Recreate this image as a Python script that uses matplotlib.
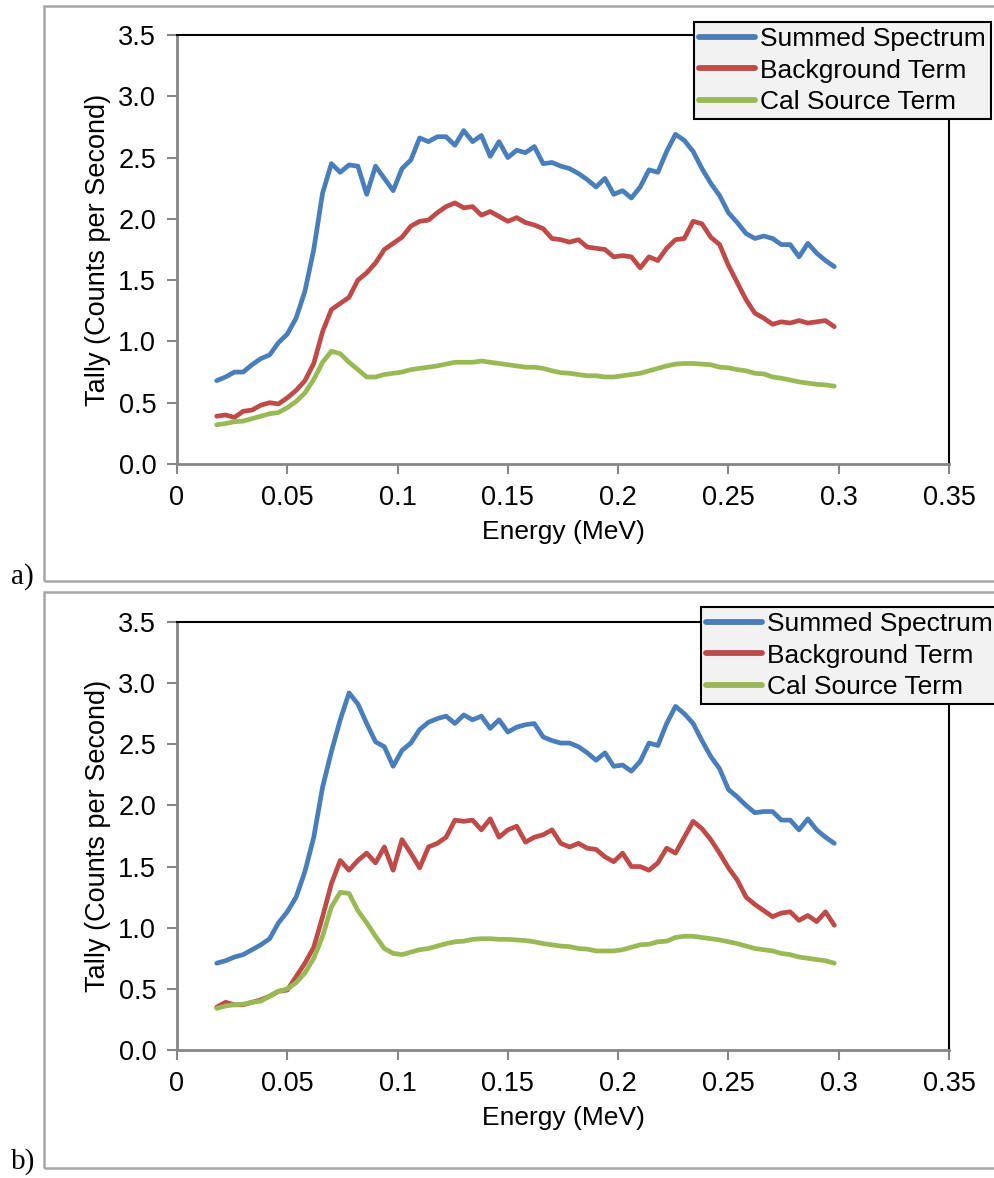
import numpy as np
import matplotlib
matplotlib.use("Agg")
import matplotlib.pyplot as plt
from matplotlib.patches import Rectangle

plt.rcParams["font.family"] = ["Liberation Sans", "DejaVu Sans"]

# energy grid (MeV)
energy = np.round(np.arange(0.018, 0.2981, 0.004), 3)

# panel a
summed_a = [0.68, 0.71, 0.75, 0.75, 0.81, 0.86, 0.89, 0.99, 1.06, 1.19,
            1.41, 1.75, 2.21, 2.45, 2.38, 2.44, 2.43, 2.20, 2.43, 2.33,
            2.23, 2.41, 2.48, 2.66, 2.63, 2.67, 2.67, 2.60, 2.72, 2.63,
            2.68, 2.51, 2.63, 2.50, 2.56, 2.54, 2.59, 2.45, 2.46, 2.43,
            2.41, 2.37, 2.32, 2.26, 2.33, 2.20, 2.23, 2.17, 2.26, 2.40,
            2.38, 2.55, 2.69, 2.64, 2.55, 2.41, 2.29, 2.19, 2.05, 1.97,
            1.88, 1.84, 1.86, 1.84, 1.79, 1.79, 1.69, 1.80, 1.72, 1.66,
            1.61]
background_a = [0.39, 0.40, 0.38, 0.43, 0.44, 0.48, 0.50, 0.49, 0.54, 0.60,
                0.68, 0.82, 1.08, 1.26, 1.31, 1.36, 1.50, 1.56, 1.64, 1.75,
                1.80, 1.85, 1.94, 1.98, 1.99, 2.05, 2.10, 2.13, 2.09, 2.10,
                2.03, 2.06, 2.02, 1.98, 2.01, 1.97, 1.95, 1.92, 1.84, 1.83,
                1.81, 1.83, 1.77, 1.76, 1.75, 1.69, 1.70, 1.69, 1.60, 1.69,
                1.66, 1.76, 1.83, 1.84, 1.98, 1.96, 1.85, 1.79, 1.62, 1.48,
                1.34, 1.23, 1.19, 1.14, 1.16, 1.15, 1.17, 1.15, 1.16, 1.17,
                1.12]
cal_a = [0.32, 0.33, 0.345, 0.35, 0.37, 0.39, 0.41, 0.42, 0.46, 0.51,
         0.58, 0.69, 0.83, 0.92, 0.90, 0.83, 0.77, 0.71, 0.71, 0.73,
         0.74, 0.75, 0.77, 0.78, 0.79, 0.80, 0.815, 0.83, 0.83, 0.83,
         0.84, 0.83, 0.82, 0.81, 0.80, 0.79, 0.79, 0.78, 0.76, 0.745,
         0.74, 0.73, 0.72, 0.72, 0.71, 0.71, 0.72, 0.73, 0.74, 0.76,
         0.78, 0.80, 0.815, 0.82, 0.82, 0.815, 0.81, 0.79, 0.785, 0.77,
         0.76, 0.74, 0.735, 0.71, 0.70, 0.685, 0.67, 0.66, 0.65, 0.645,
         0.635]

# panel b
summed_b = [0.71, 0.73, 0.76, 0.78, 0.82, 0.86, 0.91, 1.04, 1.13, 1.25,
            1.46, 1.74, 2.15, 2.44, 2.70, 2.92, 2.83, 2.67, 2.52, 2.48,
            2.32, 2.45, 2.51, 2.62, 2.68, 2.71, 2.73, 2.67, 2.74, 2.70,
            2.73, 2.63, 2.70, 2.60, 2.64, 2.66, 2.67, 2.56, 2.53, 2.51,
            2.51, 2.48, 2.43, 2.37, 2.43, 2.32, 2.33, 2.28, 2.36, 2.51,
            2.49, 2.67, 2.81, 2.75, 2.67, 2.53, 2.40, 2.30, 2.13, 2.07,
            2.00, 1.94, 1.95, 1.95, 1.88, 1.88, 1.80, 1.89, 1.80, 1.74,
            1.69]
background_b = [0.35, 0.39, 0.37, 0.37, 0.39, 0.41, 0.44, 0.48, 0.49, 0.60,
                0.71, 0.84, 1.09, 1.36, 1.55, 1.47, 1.55, 1.61, 1.53, 1.66,
                1.47, 1.72, 1.61, 1.49, 1.66, 1.69, 1.74, 1.88, 1.87, 1.88,
                1.80, 1.89, 1.74, 1.80, 1.83, 1.70, 1.74, 1.76, 1.80, 1.69,
                1.66, 1.69, 1.65, 1.64, 1.58, 1.54, 1.61, 1.50, 1.50, 1.47,
                1.53, 1.65, 1.61, 1.74, 1.87, 1.81, 1.72, 1.61, 1.49, 1.39,
                1.25, 1.19, 1.14, 1.09, 1.12, 1.13, 1.06, 1.10, 1.05, 1.13,
                1.02]
cal_b = [0.34, 0.36, 0.37, 0.375, 0.39, 0.40, 0.44, 0.48, 0.50, 0.55,
         0.63, 0.75, 0.93, 1.17, 1.29, 1.28, 1.14, 1.04, 0.93, 0.83,
         0.79, 0.78, 0.80, 0.82, 0.83, 0.85, 0.87, 0.885, 0.89, 0.905,
         0.91, 0.91, 0.905, 0.905, 0.90, 0.895, 0.885, 0.87, 0.86, 0.85,
         0.845, 0.83, 0.825, 0.81, 0.81, 0.81, 0.82, 0.84, 0.86, 0.865,
         0.885, 0.89, 0.92, 0.93, 0.93, 0.92, 0.91, 0.90, 0.885, 0.87,
         0.85, 0.83, 0.82, 0.81, 0.79, 0.78, 0.76, 0.75, 0.74, 0.73,
         0.71]

labels = ["Summed Spectrum", "Background Term", "Cal Source Term"]
colors = ["#4A7EBB", "#BE4B48", "#98B954"]

W, H = 994, 1178
fig = plt.figure(figsize=(W / 100, H / 100), dpi=100)

panels = [
    (summed_a, background_a, cal_a, 35, 464, 6, 581, 22, 694, "a)", 577),
    (summed_b, background_b, cal_b, 622, 1050, 592, 1168, 607, 701, "b)", 1162),
]

for s, b, c, top, bot, ftop, fbot, legy, legx, tag, tagy in panels:
    # outer frame around each panel
    fig.patches.append(Rectangle((44 / W, 1 - fbot / H), 1.2, (fbot - ftop) / H,
                                 transform=fig.transFigure, fill=False,
                                 edgecolor="#A6A6A6", lw=1.8))
    fig.text(11 / W, 1 - tagy / H, tag, family="Liberation Serif",
             fontsize=21, va="center", ha="left")

    ax = fig.add_axes([177 / W, 1 - bot / H, (949 - 177) / W, (bot - top) / H])
    for y, col, lab in zip([s, b, c], colors, labels):
        ax.plot(energy, y, color=col, lw=3.4, label=lab,
                solid_joinstyle="round", solid_capstyle="round")

    ax.set_xlim(0, 0.35)
    ax.set_ylim(0, 3.5)
    ax.set_xticks([0, 0.05, 0.1, 0.15, 0.2, 0.25, 0.3, 0.35])
    ax.set_xticklabels(["0", "0.05", "0.1", "0.15", "0.2", "0.25", "0.3", "0.35"])
    ax.set_yticks(np.arange(0, 3.51, 0.5))
    ax.set_yticklabels([f"{v:.1f}" for v in np.arange(0, 3.51, 0.5)])
    ax.tick_params(axis="both", direction="out", length=7, width=1.5,
                   color="#868686", labelsize=19.5, pad=8)

    for sp in ["left", "bottom"]:
        ax.spines[sp].set_color("#868686")
        ax.spines[sp].set_linewidth(2)
    for sp in ["top", "right"]:
        ax.spines[sp].set_color("black")
        ax.spines[sp].set_linewidth(1.5)

    ax.set_ylabel("Tally (Counts per Second)", fontsize=19.5)
    ax.set_xlabel("Energy (MeV)", fontsize=19)
    ax.yaxis.set_label_coords(-0.086, 0.5)
    ax.xaxis.set_label_coords(0.5, -0.13)

    leg = ax.legend(loc="upper left", bbox_to_anchor=(legx / W, 1 - legy / H),
                    bbox_transform=fig.transFigure, fontsize=19,
                    frameon=True, fancybox=False, framealpha=1,
                    facecolor="#F2F2F2", edgecolor="black",
                    handlelength=2.1, handletextpad=0.2, labelspacing=0.28,
                    borderpad=0.2, borderaxespad=0)
    leg.get_frame().set_linewidth(1.5)
    for ln in leg.get_lines():
        ln.set_linewidth(4.2)

fig.savefig("out.png", dpi=100)
